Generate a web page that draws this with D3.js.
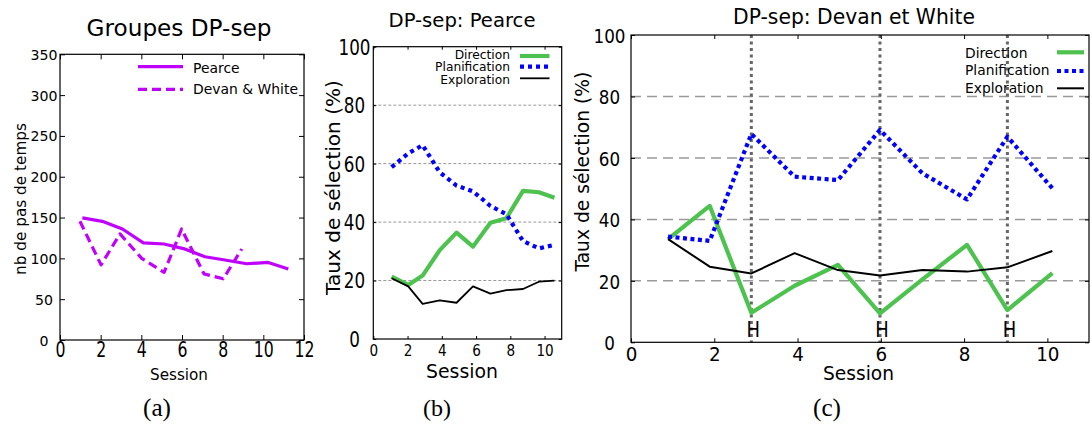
<!DOCTYPE html>
<html><head><meta charset="utf-8">
<script src="https://cdn.jsdelivr.net/npm/d3@7"></script>
<style>body{margin:0;background:#fff}svg{display:block}text{font-family:"DejaVu Sans",sans-serif;fill:#000}</style>
</head><body>
<svg id="c" width="1092" height="426"></svg>
<script>
// ---------- data ----------
const pearceSessions = [1.1, 2.08, 3.07, 4.1, 5.12, 6.07, 7.13, 8.11, 9.18, 10.24, 11.23];
const pearceSteps = [149.6, 145.4, 136, 119, 117.6, 112, 102, 98, 93.4, 95, 87];
const devanSessions = [0.98, 2.02, 2.95, 4.02, 5.12, 5.98, 7.08, 8.03, 8.94];
const devanSteps = [145.4, 92, 130, 100, 82.8, 136, 81, 75, 111.5];

const sessionsB = [1.07, 2.04, 2.88, 3.88, 4.86, 5.82, 6.84, 7.77, 8.74, 9.67, 10.58];
const pearceDirection = [21.3, 18.5, 21.7, 30.4, 36.4, 31.6, 39.8, 41.3, 50.7, 50.2, 48.3];
const pearcePlanification = [58.8, 63.5, 66.3, 57, 52.5, 50.5, 45.5, 42.7, 33.5, 31, 32.2];
const pearceExploration = [20.8, 18, 12, 13.2, 12.4, 18, 15.5, 16.7, 17.1, 19.6, 20];

const sessionsC = [0.89, 1.89, 2.89, 3.93, 4.97, 5.98, 7.0, 8.07, 9.04, 10.12];
const devanDirection = [33.6, 44.4, 9.6, 18.4, 25.2, 9.4, 20.5, 31.7, 10.5, 22.5];
const devanPlanification = [34.4, 33, 67.8, 53.9, 52.8, 69.1, 55, 46.5, 66.9, 50.1];
const devanExploration = [33.6, 24.6, 22.4, 29, 23.5, 21.7, 23.5, 23, 24.4, 29.7];
const hSessions = [2.89, 5.98, 9.04];
const hLabel = "H";

const xTicksA = [0, 2, 4, 6, 8, 10, 12];
const yTicksA = [0, 50, 100, 150, 200, 250, 300, 350];
const xTicksBC = [0, 2, 4, 6, 8, 10];
const yTicksBC = [0, 20, 40, 60, 80, 100];
const gridBC = [20, 40, 60, 80];

const legendA = ["Pearce", "Devan & White"];
const legendBC = ["Direction", "Planification", "Exploration"];
const titles = ["Groupes DP-sep", "DP-sep: Pearce", "DP-sep: Devan et White"];
const yLabels = ["nb de pas de temps", "Taux de sélection (%)", "Taux de sélection (%)"];
const xLabel = "Session";
const captions = ["(a)", "(b)", "(c)"];

// ---------- drawing ----------
const svg = d3.select("#c");
const PURPLE = "#c000ff", GREEN = "#4ec24e", BLUE = "#0000ff";

// scale a text's font-size so that its rendered width equals target
function fit(sel, target) {
  const n = sel.node();
  const fs = parseFloat(sel.attr("font-size"));
  const w = n.getComputedTextLength();
  if (w > 0) sel.attr("font-size", fs * target / w);
  return parseFloat(sel.attr("font-size"));
}

function frameAxes(g, x, y, o) {
  const [x0, x1] = x.range(), [y0, y1] = y.range();
  // bottom
  const b = g.append("g").attr("transform", `translate(0,${y0})`)
    .call(d3.axisBottom(x).tickValues(o.xTicks).tickSizeInner(-o.tick).tickSizeOuter(0).tickFormat(d3.format("d")));
  b.select(".domain").remove();
  b.selectAll(".tick line").attr("stroke", "#000");
  const bt = b.selectAll("text").attr("font-size", 16).attr("font-family", "DejaVu Sans").attr("text-anchor", "middle");
  const bref = bt.filter(d => d === o.xRef.v);
  const bfs = fit(bref, o.xRef.w);
  const bk = o.xRef.h / (0.729 * bfs);
  bt.attr("font-size", bfs).attr("transform", `scale(1,${bk})`).attr("y", o.xBase / bk).attr("dy", 0);
  // top
  const t = g.append("g").attr("transform", `translate(0,${y1})`)
    .call(d3.axisTop(x).tickValues(o.xTicks).tickSizeInner(-o.tick).tickSizeOuter(0).tickFormat(""));
  t.select(".domain").remove(); t.selectAll(".tick line").attr("stroke", "#000");
  // left
  const l = g.append("g").attr("transform", `translate(${x0},0)`)
    .call(d3.axisLeft(y).tickValues(o.yTicks).tickSizeInner(-o.tick).tickSizeOuter(0).tickFormat(d3.format("d")));
  l.select(".domain").remove(); l.selectAll(".tick line").attr("stroke", "#000");
  const lt = l.selectAll("text").attr("font-size", 16).attr("font-family", "DejaVu Sans").attr("text-anchor", "middle");
  const lref = lt.filter(d => d === o.yRef.v);
  const lfs = fit(lref, o.yRef.w);
  const lk = o.yRef.h / (0.729 * lfs);
  lt.attr("font-size", lfs).attr("transform", `scale(1,${lk})`).attr("x", o.yLabX - x0).attr("y", 0).attr("dy", "0.36em");
  // right
  const r = g.append("g").attr("transform", `translate(${x1},0)`)
    .call(d3.axisRight(y).tickValues(o.yTicks).tickSizeInner(-o.tick).tickSizeOuter(0).tickFormat(""));
  r.select(".domain").remove(); r.selectAll(".tick line").attr("stroke", "#000");
  // frame
  g.append("rect").attr("x", x0).attr("y", y1).attr("width", x1 - x0).attr("height", y0 - y1)
    .attr("fill", "none").attr("stroke", "#000").attr("stroke-width", 1.2);
}

function drawLine(g, x, y, xs, ys, style) {
  const line = d3.line().x(d => x(d[0])).y(d => y(d[1]));
  g.append("path").datum(xs.map((v, i) => [v, ys[i]])).attr("d", line)
    .attr("fill", "none").attr("stroke", style.color).attr("stroke-width", style.w)
    .attr("stroke-dasharray", style.dash || null).attr("stroke-linejoin", "round");
}

function texts(g, o) {
  fit(g.append("text").attr("x", o.titleX).attr("y", o.titleY).attr("text-anchor", "middle").attr("font-size", 20).text(o.title), o.titleW);
  fit(g.append("text").attr("transform", `translate(${o.ylX},${o.ylY}) rotate(-90)`).attr("text-anchor", "middle")
    .attr("dy", "0.36em").attr("font-size", 16).text(o.ylabel), o.ylW);
  fit(g.append("text").attr("x", o.xlX).attr("y", o.xlY).attr("text-anchor", "middle").attr("font-size", 16).text(xLabel), o.xlW);
  fit(g.append("text").attr("x", o.capX).attr("y", 416).attr("text-anchor", "middle").attr("font-size", 22)
    .style("font-family", "'Liberation Serif', serif").text(o.caption), 28);
}

function legend(g, names, styles, o) {
  const txt = names.map((name, i) => g.append("text").attr("x", o.tx).attr("y", o.ty[i]).attr("dy", "0.36em")
    .attr("text-anchor", o.anchor).attr("font-size", 14).text(name));
  const fs = fit(txt[o.refIdx], o.refW);
  txt.forEach(t => t.attr("font-size", fs));
  names.forEach((name, i) => {
    g.append("line").attr("x1", o.lx[0]).attr("x2", o.lx[1]).attr("y1", o.ly[i]).attr("y2", o.ly[i])
      .attr("stroke", styles[i].color).attr("stroke-width", styles[i].w).attr("stroke-dasharray", styles[i].dash || null);
  });
}

// ===== Panel A =====
{
  const g = svg.append("g");
  const x = d3.scaleLinear().domain([0, 12]).range([60, 304]);
  const y = d3.scaleLinear().domain([0, 350]).range([340, 54.3]);
  const stA = [{color: PURPLE, w: 3.2}, {color: PURPLE, w: 3.2, dash: "9,5"}];
  drawLine(g, x, y, pearceSessions, pearceSteps, stA[0]);
  drawLine(g, x, y, devanSessions, devanSteps, stA[1]);
  frameAxes(g, x, y, {xTicks: xTicksA, yTicks: yTicksA, tick: 5,
    xRef: {v: 12, w: 20, h: 15}, xBase: 17.3, yRef: {v: 350, w: 27, h: 10.2}, yLabX: 44});
  legend(g, legendA, stA, {tx: 193, ty: [67.5, 88.5], anchor: "start", refIdx: 1, refW: 105, lx: [138, 183], ly: [66.7, 89.3]});
  texts(g, {title: titles[0], titleX: 179, titleY: 36, titleW: 185, ylabel: yLabels[0], ylX: 20, ylY: 199, ylW: 152,
    xlX: 179, xlY: 380, xlW: 58, capX: 157, caption: captions[0]});
}

// ===== Panel B =====
{
  const g = svg.append("g");
  const x = d3.scaleLinear().domain([0, 11]).range([373.3, 561.7]);
  const y = d3.scaleLinear().domain([0, 100]).range([339, 46.7]);
  gridBC.forEach(v => g.append("line").attr("x1", x.range()[0]).attr("x2", x.range()[1]).attr("y1", y(v)).attr("y2", y(v))
    .attr("stroke", "#999").attr("stroke-width", 1).attr("stroke-dasharray", "3,2"));
  const stB = [{color: GREEN, w: 4.2}, {color: BLUE, w: 4.2, dash: "4,4"}, {color: "#000", w: 1.8}];
  drawLine(g, x, y, sessionsB, pearceDirection, stB[0]);
  drawLine(g, x, y, sessionsB, pearcePlanification, stB[1]);
  drawLine(g, x, y, sessionsB, pearceExploration, stB[2]);
  frameAxes(g, x, y, {xTicks: xTicksBC, yTicks: yTicksBC, tick: 3,
    xRef: {v: 10, w: 17.3, h: 11}, xBase: 17, yRef: {v: 100, w: 32, h: 15}, yLabX: 354.5});
  legend(g, legendBC, stB, {tx: 510, ty: [54.5, 67, 79.5], anchor: "end", refIdx: 1, refW: 75, lx: [520, 549.5], ly: [56, 66.7, 78.3]});
  texts(g, {title: titles[1], titleX: 462, titleY: 27, titleW: 147, ylabel: yLabels[1], ylX: 332.5, ylY: 187.5, ylW: 215,
    xlX: 462, xlY: 378, xlW: 72, capX: 437, caption: captions[1]});
}

// ===== Panel C =====
{
  const g = svg.append("g");
  const x = d3.scaleLinear().domain([0, 11]).range([631, 1089]);
  const y = d3.scaleLinear().domain([0, 100]).range([342.3, 35]);
  gridBC.forEach(v => g.append("line").attr("x1", x.range()[0]).attr("x2", x.range()[1]).attr("y1", y(v)).attr("y2", y(v))
    .attr("stroke", "#999").attr("stroke-width", 1.5).attr("stroke-dasharray", "10,6"));
  hSessions.forEach(s => {
    g.append("line").attr("x1", x(s)).attr("x2", x(s)).attr("y1", y(100)).attr("y2", y(0))
      .attr("stroke", "#666").attr("stroke-width", 3).attr("stroke-dasharray", "3,3.5");
  });
  const stC = [{color: GREEN, w: 4.2}, {color: BLUE, w: 4.2, dash: "4,3.5"}, {color: "#000", w: 2}];
  drawLine(g, x, y, sessionsC, devanDirection, stC[0]);
  drawLine(g, x, y, sessionsC, devanPlanification, stC[1]);
  drawLine(g, x, y, sessionsC, devanExploration, stC[2]);
  hSessions.forEach(s => {
    const h = g.append("text").attr("x", x(s) + 2).attr("y", 337).attr("text-anchor", "middle").attr("font-size", 18).text(hLabel);
    const fs = fit(h, 13.5);
    h.attr("transform", `translate(0,${337}) scale(1,${15 / (0.729 * fs)}) translate(0,${-337})`);
  });
  frameAxes(g, x, y, {xTicks: xTicksBC, yTicks: yTicksBC, tick: 4,
    xRef: {v: 10, w: 23.3, h: 14.3}, xBase: 18.7, yRef: {v: 100, w: 32, h: 14.6}, yLabX: 609.5});
  legend(g, legendBC, stC, {tx: 965, ty: [53, 70.5, 88], anchor: "start", refIdx: 1, refW: 84.5, lx: [1057, 1084], ly: [52.3, 71, 88.3]});
  texts(g, {title: titles[2], titleX: 854, titleY: 24, titleW: 242, ylabel: yLabels[2], ylX: 582, ylY: 171.7, ylW: 200,
    xlX: 858.5, xlY: 380, xlW: 71, capX: 827, caption: captions[2]});
}
</script>
</body></html>
